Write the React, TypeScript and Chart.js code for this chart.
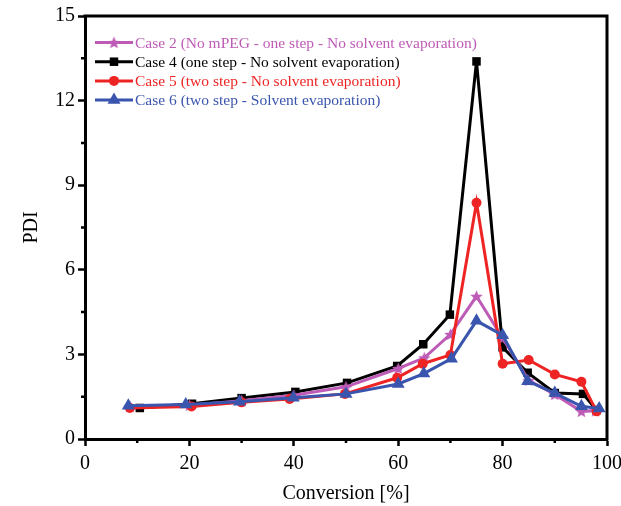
import React, { useEffect, useRef } from 'react';
import { Chart, registerables } from 'chart.js';

Chart.register(...registerables);

// ---- data ----
const seriesLabels = [
  'Case 2 (No mPEG - one step - No solvent evaporation)',
  'Case 4 (one step - No solvent evaporation)',
  'Case 5 (two step - No solvent evaporation)',
  'Case 6 (two step - Solvent evaporation)',
];
const seriesColors = ['#BE5BB6', '#000000', '#EE2424', '#3A55AE'];

const case2X = [8.6, 20, 30, 40, 50, 60, 65, 70, 75, 80, 85, 90, 95.1, 97.8];
const case2Y = [1.15, 1.2, 1.36, 1.55, 1.85, 2.5, 2.88, 3.71, 5.06, 3.58, 2.08, 1.58, 0.98, 1.0];

const case4X = [10.5, 20.5, 30, 40.3, 50.2, 59.8, 64.8, 69.9, 75, 80, 84.8, 90, 95.4, 98];
const case4Y = [1.1, 1.25, 1.45, 1.67, 1.99, 2.59, 3.36, 4.41, 13.39, 3.25, 2.35, 1.63, 1.6, 1.03];

const case5X = [8.6, 20.4, 30, 39.2, 49.8, 59.8, 64.7, 70, 75, 80, 85, 90, 95.1, 98];
const case5Y = [1.1, 1.15, 1.3, 1.42, 1.6, 2.17, 2.67, 2.98, 8.38, 2.67, 2.8, 2.29, 2.03, 0.98];

const case6X = [8.3, 19.3, 29.6, 39.9, 50, 60, 64.9, 70.2, 75, 80, 84.8, 90, 95.1, 98.5];
const case6Y = [1.18, 1.22, 1.32, 1.46, 1.6, 1.95, 2.32, 2.85, 4.19, 3.68, 2.05, 1.63, 1.16, 1.08];

const xTicks = [0, 20, 40, 60, 80, 100];
const xMinorTicks = [10, 30, 50, 70, 90];
const yTicks = [0, 3, 6, 9, 12, 15];
const yMinorTicks = [1.5, 4.5, 7.5, 10.5, 13.5];

const FONT = 'Liberation Serif';

function makeStar(color: string, size: number) {
  const c = document.createElement('canvas');
  c.width = size;
  c.height = size;
  const ctx = c.getContext('2d')!;
  const cx = size / 2, cy = size / 2 + 0.5, R = size / 2, r = R * 0.45;
  ctx.beginPath();
  for (let i = 0; i < 10; i++) {
    const a = -Math.PI / 2 + (i * Math.PI) / 5;
    const rad = i % 2 === 0 ? R : r;
    ctx.lineTo(cx + rad * Math.cos(a), cy + rad * Math.sin(a));
  }
  ctx.closePath();
  ctx.fillStyle = color;
  ctx.fill();
  return c;
}

function drawMarker(ctx: CanvasRenderingContext2D, style: any, x: number, y: number, r: number, color: string) {
  ctx.fillStyle = color;
  if (style instanceof HTMLCanvasElement) {
    ctx.drawImage(style, x - style.width / 2, y - style.height / 2);
    return;
  }
  ctx.beginPath();
  if (style === 'rect') {
    const s = Math.SQRT1_2 * r;
    ctx.rect(x - s, y - s, 2 * s, 2 * s);
  } else if (style === 'circle') {
    ctx.arc(x, y, r, 0, Math.PI * 2);
  } else if (style === 'triangle') {
    ctx.moveTo(x, y - r);
    ctx.lineTo(x + r * Math.cos(Math.PI / 6), y + r * 0.5);
    ctx.lineTo(x - r * Math.cos(Math.PI / 6), y + r * 0.5);
    ctx.closePath();
  }
  ctx.fill();
}

const extrasPlugin = {
  id: 'extras',
  afterDraw(chart: any) {
    const { ctx, chartArea } = chart;
    const { left, right, top, bottom } = chartArea;
    const xs = chart.scales.x;
    const ys = chart.scales.y;
    ctx.save();
    ctx.strokeStyle = '#000';
    ctx.lineWidth = 3;
    ctx.beginPath();
    ctx.moveTo(left - 1.5, top);
    ctx.lineTo(right, top);
    ctx.lineTo(right, bottom + 1.5);
    ctx.stroke();

    ctx.lineWidth = 2.5;
    ctx.beginPath();
    xMinorTicks.forEach((v) => {
      const px = xs.getPixelForValue(v);
      ctx.moveTo(px, bottom);
      ctx.lineTo(px, bottom + 4);
    });
    yMinorTicks.forEach((v) => {
      const py = ys.getPixelForValue(v);
      ctx.moveTo(left, py);
      ctx.lineTo(left - 4, py);
    });
    ctx.stroke();

    // legend
    const x0 = left + 10;
    const lineLen = 38;
    const y0 = top + 26.5;
    const dy = 19.2;
    ctx.font = `15.5px "${FONT}"`;
    ctx.textBaseline = 'middle';
    ctx.textAlign = 'left';
    chart.data.datasets.forEach((ds: any, i: number) => {
      const y = y0 + i * dy;
      ctx.strokeStyle = ds.borderColor;
      ctx.lineWidth = 3;
      ctx.beginPath();
      ctx.moveTo(x0, y);
      ctx.lineTo(x0 + lineLen, y);
      ctx.stroke();
      drawMarker(ctx, ds.pointStyle, x0 + lineLen / 2, y, ds.pointRadius, ds.borderColor);
      ctx.fillStyle = ds.borderColor;
      ctx.fillText(ds.label, x0 + lineLen + 2, y + 1);
    });
    ctx.restore();
  },
};

export default function App() {
  const ref = useRef<HTMLCanvasElement | null>(null);

  useEffect(() => {
    if (!ref.current) return;
    const xsArr = [case2X, case4X, case5X, case6X];
    const ysArr = [case2Y, case4Y, case5Y, case6Y];
    const styles: any[] = [makeStar(seriesColors[0], 13), 'rect', 'circle', 'triangle'];
    const radii = [6, 6, 5, 7.5];
    const datasets = seriesLabels.map((label, i) => ({
      label,
      data: xsArr[i].map((x, j) => ({ x, y: ysArr[i][j] })),
      borderColor: seriesColors[i],
      backgroundColor: seriesColors[i],
      borderWidth: 3,
      pointStyle: styles[i],
      pointRadius: radii[i],
      pointBorderWidth: 0,
      pointBackgroundColor: seriesColors[i],
      tension: 0,
      order: i === 1 ? 4 : 4 - i,
    }));

    const tickFont = { family: FONT, size: 20 };
    const chart = new Chart(ref.current, {
      type: 'line',
      data: { datasets },
      plugins: [extrasPlugin],
      options: {
        responsive: false,
        animation: false,
        layout: { padding: { left: 0, top: 16, right: 14, bottom: 0 } },
        plugins: { legend: { display: false }, tooltip: { enabled: false } },
        scales: {
          x: {
            type: 'linear',
            min: 0,
            max: 100,
            afterBuildTicks: (s: any) => {
              s.ticks = xTicks.map((v) => ({ value: v }));
            },
            afterFit: (s: any) => {
              s.height = 67;
              s.paddingLeft = 0;
              s.paddingRight = 0;
            },
            ticks: { font: tickFont, color: '#000', padding: 6, maxRotation: 0, autoSkip: false },
            grid: { drawOnChartArea: false, tickLength: 7, tickWidth: 2.5, tickColor: '#000' },
            border: { width: 3, color: '#000' },
            title: {
              display: true,
              text: 'Conversion [%]',
              font: tickFont,
              color: '#000',
              padding: { top: 0, bottom: 0 },
            },
          },
          y: {
            type: 'linear',
            min: 0,
            max: 15,
            afterBuildTicks: (s: any) => {
              s.ticks = yTicks.map((v) => ({ value: v }));
            },
            afterFit: (s: any) => {
              s.width = 85;
              s.paddingTop = 0;
              s.paddingBottom = 0;
            },
            ticks: { font: tickFont, color: '#000', padding: 3, autoSkip: false },
            grid: { drawOnChartArea: false, tickLength: 7, tickWidth: 2.5, tickColor: '#000' },
            border: { width: 3, color: '#000' },
            title: {
              display: true,
              text: 'PDI',
              font: tickFont,
              color: '#000',
              padding: { top: 20, bottom: 0 },
            },
          },
        },
      },
    } as any);
    return () => chart.destroy();
  }, []);

  return (
    <div style={{ position: 'absolute', left: 0, top: 0, width: 621, height: 506, background: '#fff' }}>
      <canvas ref={ref} width={621} height={506} />
    </div>
  );
}
